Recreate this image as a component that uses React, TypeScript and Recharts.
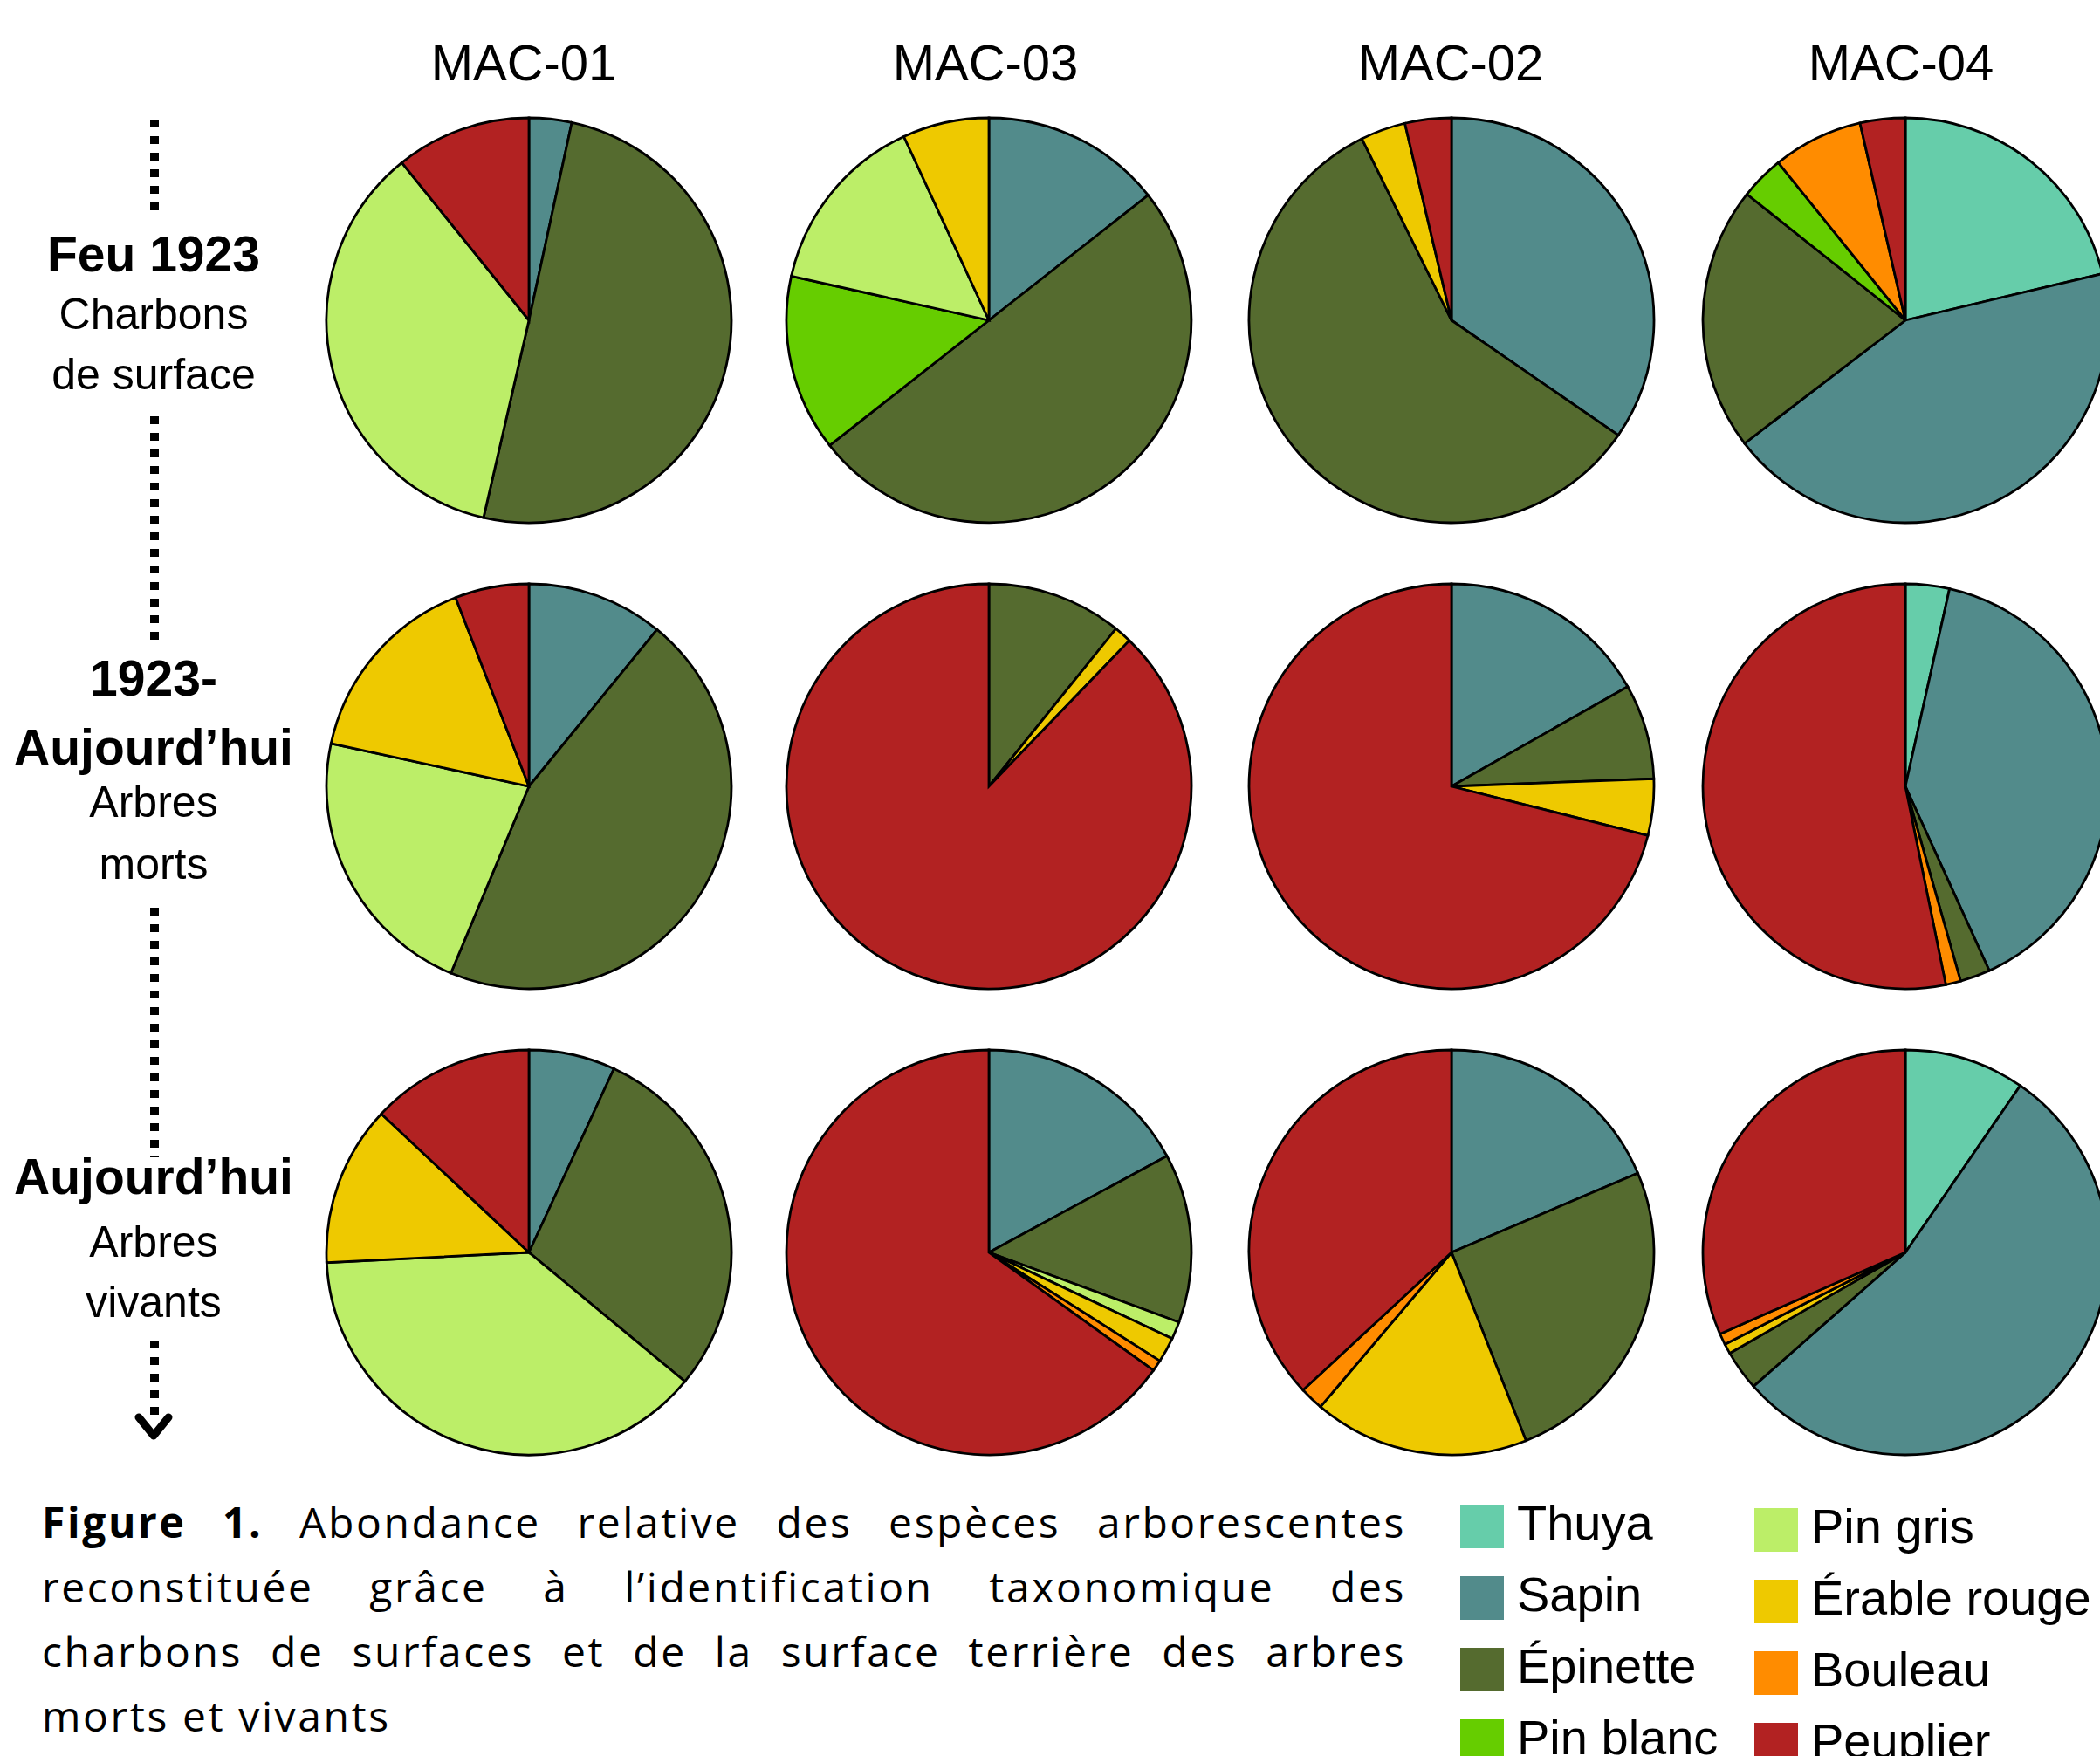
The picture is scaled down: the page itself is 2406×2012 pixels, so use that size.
import React from 'react';
import { PieChart, Pie, Cell } from 'recharts';

// ---- Categories ----
const species = ['Thuya', 'Sapin', 'Épinette', 'Pin blanc', 'Pin gris', 'Érable rouge', 'Bouleau', 'Peuplier'];
const speciesColors = ['#66CDAA', '#528B8B', '#556B2F', '#66CD00', '#BCEE68', '#EEC900', '#FF8C00', '#B22222'];
const sites = ['MAC-01', 'MAC-03', 'MAC-02', 'MAC-04'];

// ---- Relative abundance (%) per species, order as in `species` ----
// Feu 1923 – charbons de surface
const feuMAC01 = [0, 3.4, 50.2, 0, 35.6, 0, 0, 10.8];
const feuMAC03 = [0, 14.4, 50.0, 14.1, 14.6, 6.9, 0, 0];
const feuMAC02 = [0, 34.6, 58.1, 0, 0, 3.6, 0, 3.7];
const feuMAC04 = [21.3, 43.3, 21.1, 3.5, 0, 0, 7.2, 3.6];
// 1923–Aujourd'hui – arbres morts
const mortsMAC01 = [0, 10.9, 45.4, 0, 22.1, 15.7, 0, 5.9];
const mortsMAC03 = [0, 0, 10.8, 0, 0, 1.4, 0, 87.8];
const mortsMAC02 = [0, 16.8, 7.6, 0, 0, 4.5, 0, 71.1];
const mortsMAC04 = [3.5, 39.7, 2.4, 0, 0, 0, 1.2, 53.2];
// Aujourd'hui – arbres vivants
const vivantsMAC01 = [0, 6.9, 29.1, 0, 38.2, 12.8, 0, 13.0];
const vivantsMAC03 = [0, 17.1, 13.5, 0, 1.4, 2.0, 0.9, 65.1];
const vivantsMAC02 = [0, 18.6, 25.4, 0, 0, 17.2, 1.9, 36.9];
const vivantsMAC04 = [9.6, 53.9, 3.2, 0, 0, 0.8, 0.9, 31.6];

const pieRows = [
  [feuMAC01, feuMAC03, feuMAC02, feuMAC04],
  [mortsMAC01, mortsMAC03, mortsMAC02, mortsMAC04],
  [vivantsMAC01, vivantsMAC03, vivantsMAC02, vivantsMAC04],
];

// ---- Row labels ----
const rowBoldLines = [['Feu 1923'], ['1923-', 'Aujourd’hui'], ['Aujourd’hui']];
const rowRegularLines = [['Charbons', 'de surface'], ['Arbres', 'morts'], ['Arbres', 'vivants']];

// ---- Caption ----
const captionLines = [
  'Abondance relative des espèces arborescentes',
  'reconstituée grâce à l’identification taxonomique des',
  'charbons de surfaces et de la surface terrière des arbres',
  'morts et vivants',
];

// ---- Layout ----
const W = 2406;
const H = 2012;
const colX = [606, 1133, 1663, 2183];
const headerX = [600, 1129, 1662, 2178];
const rowY = [367, 901, 1435];
const R = 232;
const rowLabelX = 176;
const rowLabelBaselines = [
  [311, 377, 446],
  [797, 876, 936, 1007],
  [1368, 1440, 1509],
];
const dotSegments = [
  [137, 242],
  [477, 736],
  [1040, 1326],
  [1536, 1630],
];

const sans = '"Liberation Sans", Arial, Helvetica, sans-serif';

function App() {
  return (
    <div
      style={{
        position: 'absolute',
        left: 0,
        top: 0,
        width: W,
        height: H,
        overflow: 'hidden',
        background: '#fff',
      }}
    >
      <div style={{ position: 'absolute', left: 0, top: 0, width: W, height: 1720, overflow: 'hidden' }}>
        <PieChart width={W} height={1720} margin={{ top: 0, right: 0, bottom: 0, left: 0 }}>
          {pieRows.map((row, r) =>
            row.map((vals, c) => {
              const data = species
                .map((name, i) => ({ name, value: vals[i], color: speciesColors[i] }))
                .filter((d) => d.value > 0);
              return (
                <Pie
                  key={`pie-${r}-${c}`}
                  data={data}
                  dataKey="value"
                  nameKey="name"
                  cx={colX[c]}
                  cy={rowY[r]}
                  innerRadius={0}
                  outerRadius={R}
                  startAngle={90}
                  endAngle={-270}
                  stroke="#000"
                  strokeWidth={2.8}
                  label={false}
                  labelLine={false}
                  isAnimationActive={false}
                >
                  {data.map((d) => (
                    <Cell key={d.name} fill={d.color} stroke="#000" strokeWidth={2.8} />
                  ))}
                </Pie>
              );
            })
          )}
        </PieChart>
      </div>

      <svg
        width={W}
        height={H}
        style={{ position: 'absolute', left: 0, top: 0, pointerEvents: 'none' }}
      >
        {/* column headers */}
        {sites.map((s, i) => (
          <text key={s} x={headerX[i]} y={92} textAnchor="middle" fontFamily={sans} fontSize={58} fill="#000">
            {s}
          </text>
        ))}

        {/* row labels */}
        {rowBoldLines.map((bold, r) => {
          const base = rowLabelBaselines[r];
          const lines = [
            ...bold.map((t) => ({ t, b: true })),
            ...rowRegularLines[r].map((t) => ({ t, b: false })),
          ];
          return lines.map((ln, k) => (
            <text
              key={`rl-${r}-${k}`}
              x={rowLabelX}
              y={base[k]}
              textAnchor="middle"
              fontFamily={sans}
              fontWeight={ln.b ? 700 : 400}
              fontSize={ln.b ? 57 : 50}
              fill="#000"
            >
              {ln.t}
            </text>
          ));
        })}

        {/* dotted timeline */}
        {dotSegments.map(([a, b], i) => (
          <line
            key={`seg-${i}`}
            x1={177}
            x2={177}
            y1={a}
            y2={b}
            stroke="#000"
            strokeWidth={10}
            strokeDasharray="9 10"
          />
        ))}
        <polyline
          points="159,1624 176,1645 193,1624"
          fill="none"
          stroke="#000"
          strokeWidth={9}
          strokeLinecap="round"
          strokeLinejoin="round"
        />

        {/* legend */}
        {species.map((name, i) => {
          const col = i < 4 ? 0 : 1;
          const row = i % 4;
          const sx = col === 0 ? 1673 : 2010;
          const sy = (col === 0 ? 1724 : 1728) + row * 82;
          return (
            <g key={`lg-${name}`}>
              <rect x={sx} y={sy} width={50} height={50} fill={speciesColors[i]} />
              <text x={sx + 65} y={sy + 40} fontFamily={sans} fontSize={56} fill="#000">
                {name}
              </text>
            </g>
          );
        })}
      </svg>

      {/* caption */}
      <div
        style={{
          position: 'absolute',
          left: 48,
          top: 1707,
          width: 1563,
          fontFamily: '"Open Sans", "Noto Sans", sans-serif',
          fontSize: 48,
          lineHeight: '74px',
          letterSpacing: 2.6,
          color: '#000',
        }}
      >
        {captionLines.map((line, i) => (
          <div
            key={`cap-${i}`}
            style={{
              textAlign: 'justify',
              textAlignLast: i < captionLines.length - 1 ? 'justify' : 'left',
              whiteSpace: 'nowrap',
            }}
          >
            {i === 0 ? (
              <>
                <span style={{ fontWeight: 700 }}>Figure 1.</span> {line}
              </>
            ) : (
              line
            )}
          </div>
        ))}
      </div>
    </div>
  );
}

export default App;
